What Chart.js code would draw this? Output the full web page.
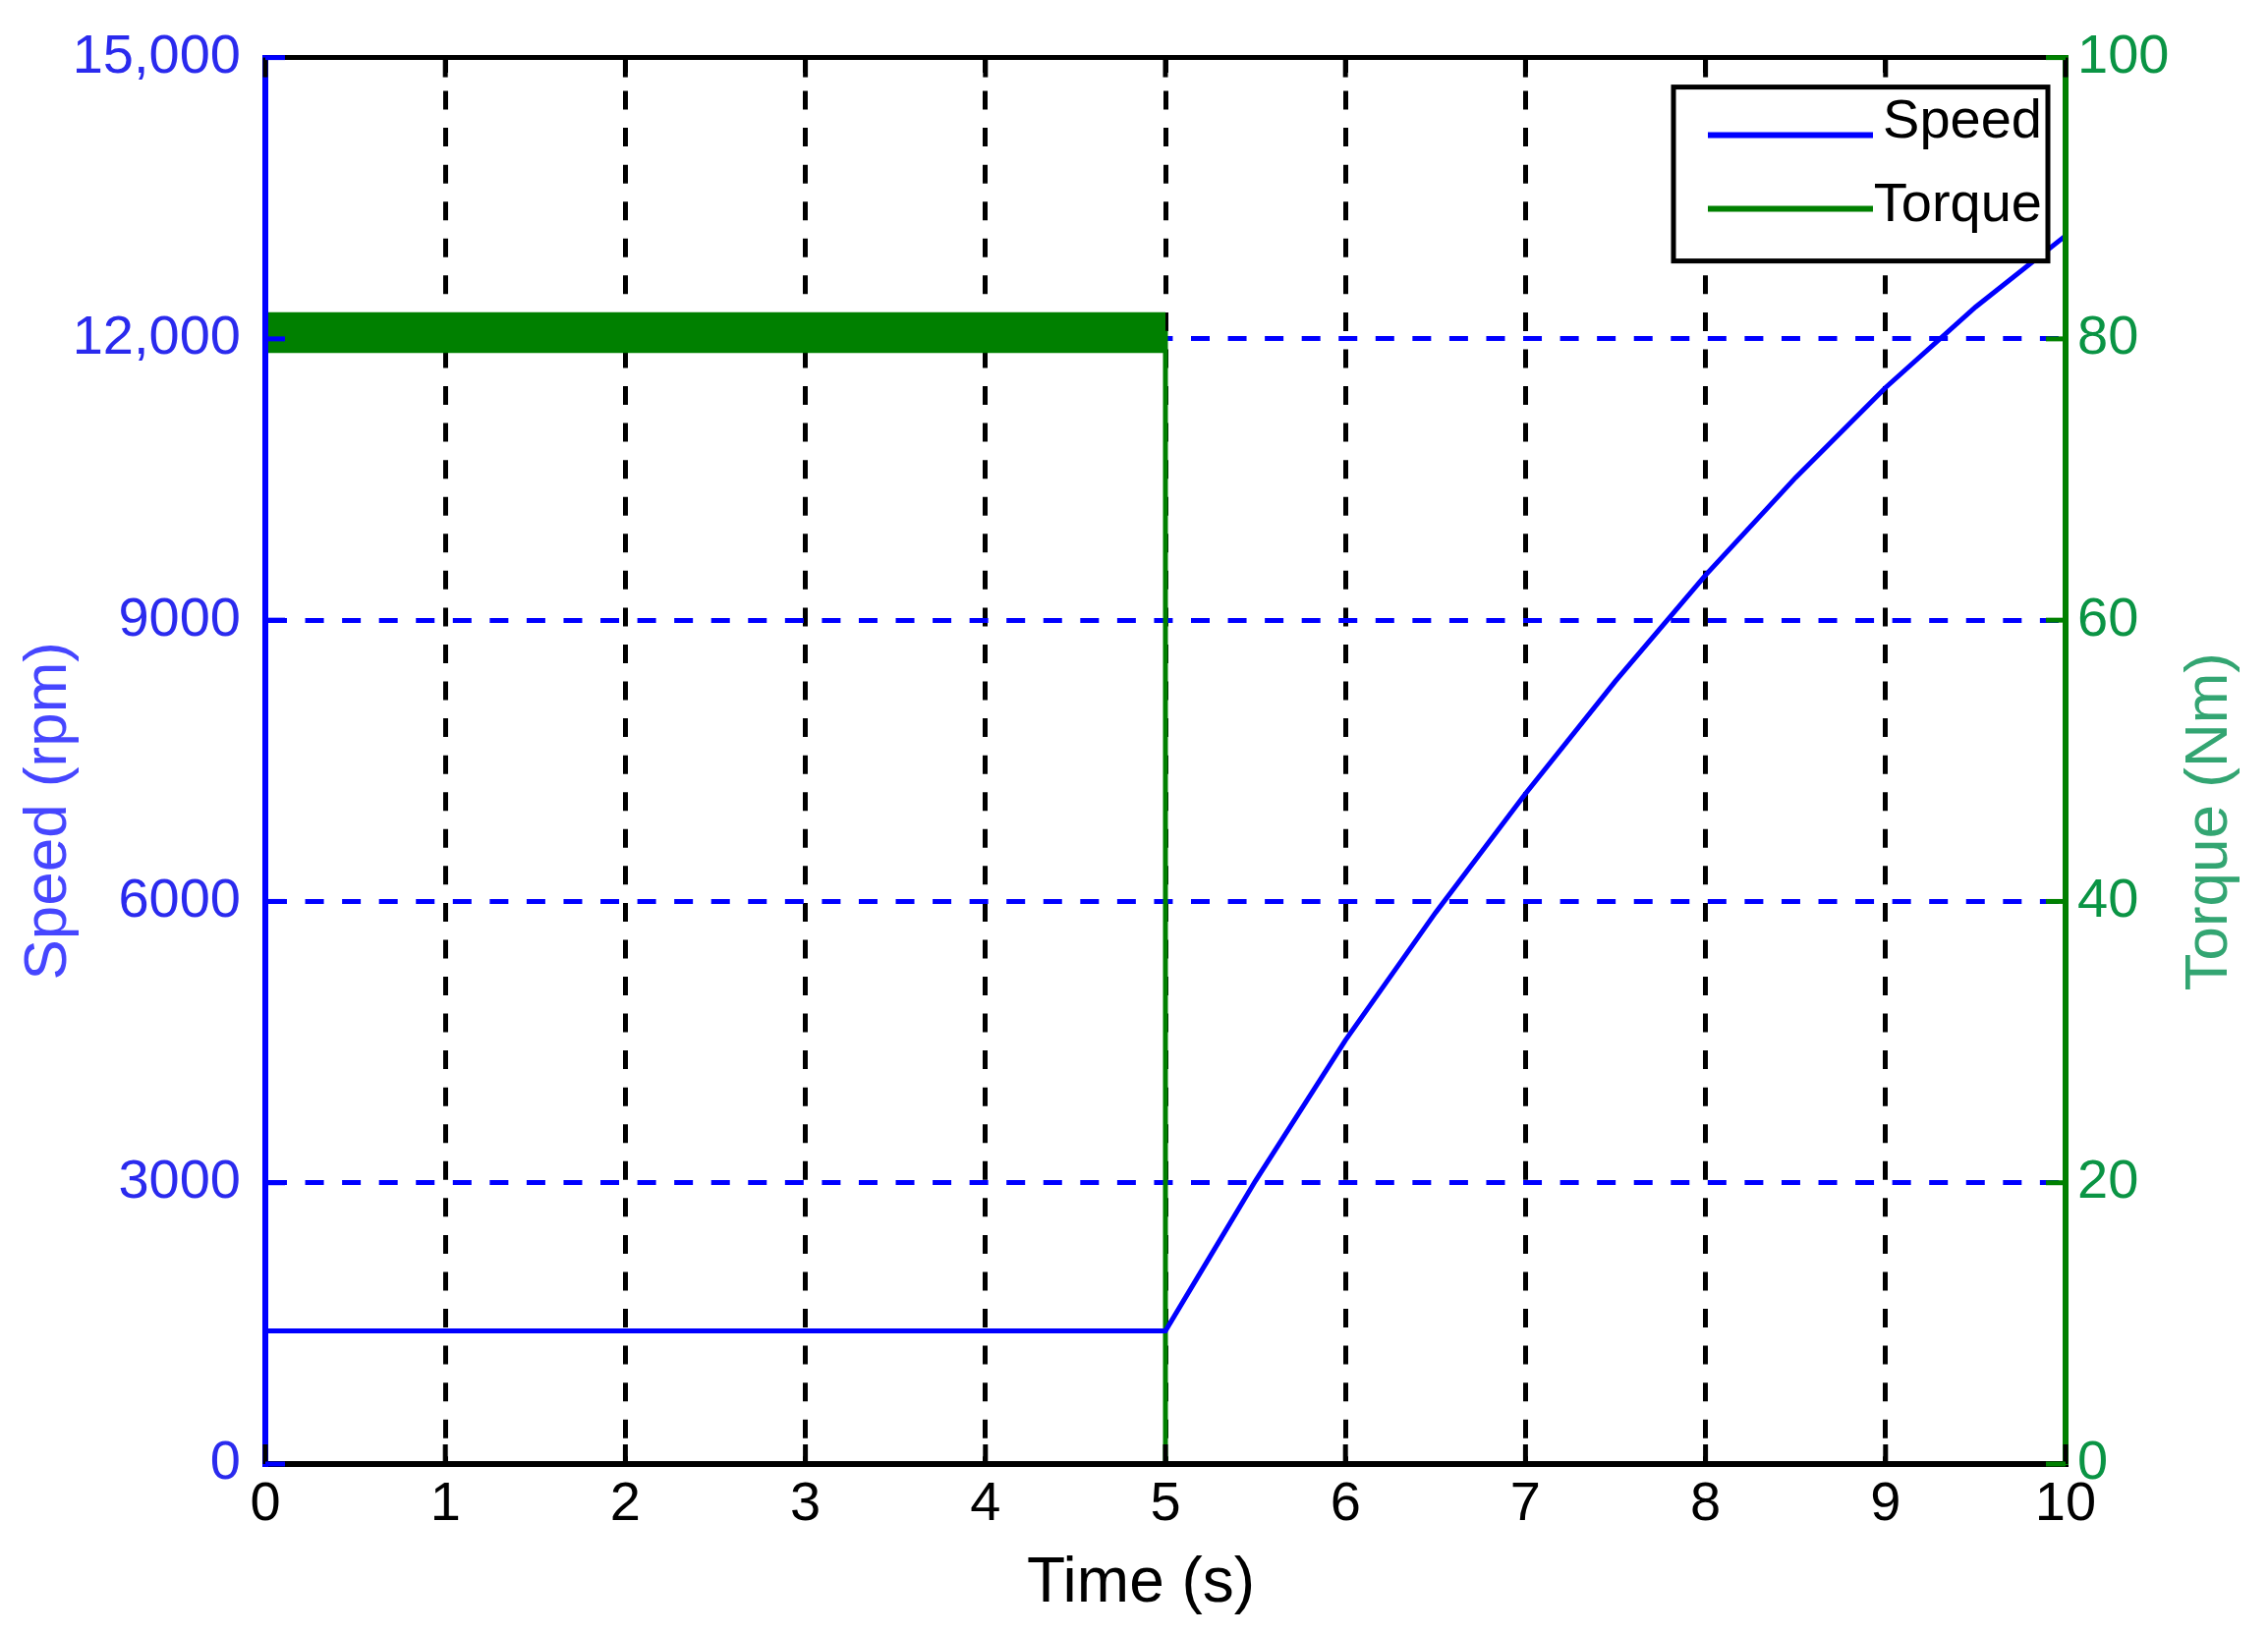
<!DOCTYPE html>
<html lang="en">
<head>
<meta charset="UTF-8">
<title>Speed and torque vs time</title>
<script src="https://cdn.jsdelivr.net/npm/chart.js@4.4.1/dist/chart.umd.min.js"></script>
<style>
    html, body { margin: 0; padding: 0; background: #fff; }
    canvas { display: block; }
</style>
</head>
<body>
<canvas id="myChart" width="2308" height="1664"></canvas>
<script>
    // speed trace (rpm)
    const speedTime  = [0, 5, 5.25, 5.5, 6, 6.5, 7, 7.5, 8, 8.5, 9, 9.5, 10];
    const speedValue = [1420, 1420, 2220, 3020, 4520, 5880, 7150, 8350, 9480, 10520, 11480, 12340, 13100];

    // torque (Nm): ripple band around 80 until 5 s, then zero
    const torqueTime  = [0, 5, 5, 10];
    const torqueValue = [80.4, 80.4, 0, 0];
    const rippleTime  = [0, 5];
    const rippleHigh  = [81.9, 81.9];
    const rippleLow   = 79.0;

    // axes
    const timeTicks = [0, 1, 2, 3, 4, 5, 6, 7, 8, 9, 10];
    const speedTicks = [0, 3000, 6000, 9000, 12000, 15000];
    const speedTickLabels = ['0', '3000', '6000', '9000', '12,000', '15,000'];
    const torqueTicks = [0, 20, 40, 60, 80, 100];
    const torqueTickLabels = ['0', '20', '40', '60', '80', '100'];

    const timeTitle = 'Time (s)';
    const speedTitle = 'Speed (rpm)';
    const torqueTitle = 'Torque (Nm)';

    const FONT = "'Liberation Sans', Arial, sans-serif";
    const BLUE = '#0000ff';
    const GREEN = '#008000';

    const pts = (xs, ys) => xs.map((x, i) => ({x, y: ys[i]}));
    const inner = (c, list) => c.tick && c.tick.value > list[0] && c.tick.value < list[list.length - 1];

    // top frame line, inward ticks, the boxed legend and the axis titles
    const matlabFrame = {
        id: 'matlabFrame',
        afterDraw(chart) {
            const {ctx, chartArea: a, scales} = chart;
            ctx.save();

            ctx.lineWidth = 5;
            ctx.strokeStyle = '#000';
            ctx.beginPath();
            ctx.moveTo(a.left, a.top);
            ctx.lineTo(a.right, a.top);
            ctx.stroke();

            const tick = (x1, y1, x2, y2, color) => {
                ctx.strokeStyle = color;
                ctx.beginPath();
                ctx.moveTo(x1, y1);
                ctx.lineTo(x2, y2);
                ctx.stroke();
            };
            timeTicks.forEach(v => {
                const x = scales.x.getPixelForValue(v);
                tick(x, a.bottom, x, a.bottom - 20, '#000');
                tick(x, a.top, x, a.top + 20, '#000');
            });
            speedTicks.forEach(v => {
                const y = scales.y.getPixelForValue(v);
                tick(a.left, y, a.left + 20, y, BLUE);
            });
            torqueTicks.forEach(v => {
                const y = scales.y1.getPixelForValue(v);
                tick(a.right, y, a.right - 20, y, GREEN);
            });

            // legend
            const w = 381, h = 177;
            const bx = a.right - 18 - w, by = a.top + 30;
            ctx.fillStyle = '#fff';
            ctx.fillRect(bx, by, w, h);
            ctx.lineWidth = 5;
            ctx.strokeStyle = '#000';
            ctx.strokeRect(bx, by, w, h);
            ctx.font = '56px ' + FONT;
            ctx.textAlign = 'right';
            ctx.textBaseline = 'alphabetic';
            chart.data.datasets.filter(d => d.label).forEach((d, i) => {
                const ly = by + 49 + i * 75;
                ctx.strokeStyle = d.borderColor;
                ctx.lineWidth = 6;
                ctx.beginPath();
                ctx.moveTo(bx + 35, ly);
                ctx.lineTo(bx + 203, ly);
                ctx.stroke();
                ctx.fillStyle = '#000';
                ctx.fillText(d.label, bx + w - 6, ly + 2 + i * 10);
            });

            const mid = (a.top + a.bottom) / 2;
            ctx.textAlign = 'center';
            ctx.textBaseline = 'middle';

            // x title
            ctx.font = '64px ' + FONT;
            ctx.fillStyle = '#000';
            ctx.fillText(timeTitle, (a.left + a.right) / 2 - 25, a.bottom + 122);

            // y titles, both reading bottom to top
            ctx.font = '62px ' + FONT;
            ctx.save();
            ctx.translate(a.left - 220, mid + 51);
            ctx.rotate(-Math.PI / 2);
            ctx.fillStyle = '#4646ff';
            ctx.fillText(speedTitle, 0, 0);
            ctx.restore();
            ctx.save();
            ctx.translate(a.right + 147, mid + 62);
            ctx.rotate(-Math.PI / 2);
            ctx.fillStyle = '#33a572';
            ctx.fillText(torqueTitle, 0, 0);
            ctx.restore();

            ctx.restore();
        }
    };

    const ctx = document.getElementById('myChart').getContext('2d');

    new Chart(ctx, {
        type: 'line',
        data: {
            datasets: [
                {
                    label: 'Speed',
                    data: pts(speedTime, speedValue),
                    yAxisID: 'y',
                    borderColor: BLUE,
                    borderWidth: 5,
                    pointRadius: 0,
                    fill: false
                },
                {
                    label: 'Torque',
                    data: pts(torqueTime, torqueValue),
                    yAxisID: 'y1',
                    borderColor: GREEN,
                    borderWidth: 5,
                    pointRadius: 0,
                    fill: false
                },
                {
                    label: '',
                    data: pts(rippleTime, rippleHigh),
                    yAxisID: 'y1',
                    borderColor: GREEN,
                    borderWidth: 0,
                    backgroundColor: GREEN,
                    pointRadius: 0,
                    fill: {value: rippleLow}
                }
            ]
        },
        options: {
            responsive: false,
            animation: false,
            devicePixelRatio: 1,
            layout: {padding: {top: 52, left: 0, right: 0, bottom: 0}},
            plugins: {
                legend: {display: false},
                tooltip: {enabled: false}
            },
            scales: {
                x: {
                    type: 'linear',
                    min: timeTicks[0],
                    max: timeTicks[timeTicks.length - 1],
                    afterBuildTicks: s => { s.ticks = timeTicks.map(v => ({value: v})); },
                    afterFit: s => { s.height = 174; },
                    grid: {
                        color: c => inner(c, timeTicks) ? '#000' : 'rgba(0,0,0,0)',
                        lineWidth: 5,
                        drawTicks: false
                    },
                    border: {color: '#000', width: 6, dash: [19, 18.56], dashOffset: 3.6, z: 1},
                    ticks: {
                        color: '#000',
                        font: {family: FONT, size: 56},
                        padding: 8,
                        maxRotation: 0,
                        autoSkip: false,
                        callback: v => String(v)
                    }
                },
                y: {
                    type: 'linear',
                    position: 'left',
                    min: speedTicks[0],
                    max: speedTicks[speedTicks.length - 1],
                    afterBuildTicks: s => { s.ticks = speedTicks.map(v => ({value: v})); },
                    afterFit: s => { s.width = 270; },
                    grid: {
                        color: c => inner(c, speedTicks) ? BLUE : 'rgba(0,0,0,0)',
                        lineWidth: 5,
                        drawTicks: false
                    },
                    border: {color: BLUE, width: 6, dash: [19, 18.56], dashOffset: 0, z: 1},
                    ticks: {
                        color: '#2a2aee',
                        font: {family: FONT, size: 56},
                        padding: 25,
                        callback: (v, i) => speedTickLabels[i]
                    }
                },
                y1: {
                    type: 'linear',
                    position: 'right',
                    min: torqueTicks[0],
                    max: torqueTicks[torqueTicks.length - 1],
                    afterBuildTicks: s => { s.ticks = torqueTicks.map(v => ({value: v})); },
                    afterFit: s => { s.width = 206; },
                    grid: {display: false, drawTicks: false},
                    border: {color: GREEN, width: 6, z: 1},
                    ticks: {
                        color: '#0a9444',
                        font: {family: FONT, size: 56},
                        padding: 12,
                        callback: (v, i) => torqueTickLabels[i]
                    }
                }
            }
        },
        plugins: [matlabFrame]
    });
</script>
</body>
</html>
